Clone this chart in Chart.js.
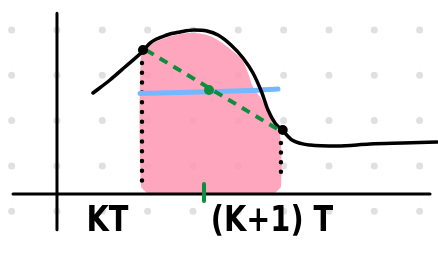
<!DOCTYPE html>
<html lang="en">
<head>
  <meta charset="UTF-8" />
  <title>Sample and hold sketch</title>
  <script src="https://cdn.jsdelivr.net/npm/chart.js"></script>
  <style>
    html, body { margin: 0; padding: 0; background: #fff; }
    #wrap { width: 438px; height: 254px; position: relative; }
  </style>
</head>
<body>
<div id="wrap"><canvas id="sketch"></canvas></div>

<script>
  // units: one grid step, origin where the two axes cross
  const X_MIN = -1.257, X_MAX = 8.405;
  const Y_MIN = -1.324, Y_MAX = 4.28;

  const dotXs = [-1, 0, 1, 2, 3, 4, 5, 6, 7, 8];
  const dotYs = [-0.38, 0.62, 1.62, 2.62, 3.62];

  const curveX = [0.794, 1.169, 1.5, 1.897, 2.052, 2.427, 2.713, 3.022, 3.309, 3.552, 3.839, 4.103, 4.324, 4.522, 4.655, 4.809, 4.986, 5.184, 5.581, 6.177, 6.905, 7.633, 8.383];
  const curveY = [2.228, 2.515, 2.802, 3.155, 3.331, 3.508, 3.574, 3.618, 3.596, 3.508, 3.287, 3.0, 2.669, 2.228, 1.853, 1.566, 1.39, 1.191, 1.081, 1.059, 1.103, 1.125, 1.147];

  const areaX = [1.985, 1.853, 1.853, 2.007, 2.383, 2.713, 3.022, 3.375, 3.706, 4.081, 4.214, 4.324, 4.522, 4.655, 4.809, 4.919, 4.941, 4.809];
  const areaY = [0.022, 0.176, 3.088, 3.265, 3.441, 3.53, 3.552, 3.486, 3.287, 2.956, 2.669, 2.36, 2.074, 1.787, 1.478, 1.324, 0.176, 0.022];

  const avgX = [1.831, 3.155, 4.258, 4.875];
  const avgY = [2.217, 2.25, 2.283, 2.316];

  const chordX = [1.963, 4.897];
  const chordY = [3.177, 1.412];
  const midX = [3.353], midY = [2.294];
  const tickX = [3.243, 3.243], tickY = [0.221, -0.154];

  const knotX = [1.897, 4.98], knotY = [3.177, 1.41];

  const holdLeftX = [1.875, 1.875], holdLeftY = [2.89, 0.287];
  const holdRightX = [4.94, 4.94], holdRightY = [1.125, 0.287];

  const axisHX = [-0.97, 8.23], axisHY = [0, 0];
  const axisVX = [0, 0], axisVY = [3.99, -0.79];

  const labelTexts = ['KT', '(K+1) T'];
  const labelX = [1.114, 4.743];
  const labelY = [-0.816, -0.816];

  const pts = (xs, ys) => xs.map((x, i) => ({ x: x, y: ys[i] }));
  const gridPts = [];
  dotYs.forEach(y => dotXs.forEach(x => gridPts.push({ x: x, y: y })));

  const line = (data, color, width, extra) => Object.assign({
    data: data, borderColor: color, borderWidth: width, pointRadius: 0,
    borderCapStyle: 'round', borderJoinStyle: 'round', fill: false, tension: 0
  }, extra || {});

  const labelPlugin = {
    id: 'labels',
    afterDatasetsDraw(chart) {
      const ctx = chart.ctx;
      const xs = chart.scales.x, ys = chart.scales.y;
      ctx.save();
      ctx.fillStyle = '#000';
      ctx.font = "bold 36px 'DejaVu Sans'";
      ctx.textAlign = 'center';
      ctx.textBaseline = 'alphabetic';
      labelTexts.forEach((t, i) => {
        ctx.save();
        ctx.translate(xs.getPixelForValue(labelX[i]), ys.getPixelForValue(labelY[i]));
        ctx.scale(0.8, 1);
        ctx.fillText(t, 0, 0);
        ctx.restore();
      });
      ctx.restore();
    }
  };

  new Chart(document.getElementById('sketch'), {
    type: 'line',
    data: {
      datasets: [
        line(pts(midX, midY), '#0b8f3c', 0, { pointRadius: 5, pointBackgroundColor: '#0b8f3c', showLine: false }),
        line(pts(knotX, knotY), '#000', 0, { pointRadius: 5, pointBackgroundColor: '#000', showLine: false }),
        line(pts(chordX, chordY), '#0b8f3c', 4, { borderDash: [9, 7], borderCapStyle: 'butt' }),
        line(pts(tickX, tickY), '#0b8f3c', 4),
        line(pts(curveX, curveY), '#000', 3.5, { cubicInterpolationMode: 'monotone' }),
        line(pts(avgX, avgY), '#74b9ff', 5, { tension: 0.3 }),
        line(pts(holdLeftX, holdLeftY), '#000', 4.5, { borderDash: [0, 9.8] }),
        line(pts(holdRightX, holdRightY), '#000', 4.5, { borderDash: [0, 9.6] }),
        line(pts(axisHX, axisHY), '#000', 3),
        line(pts(axisVX, axisVY), '#000', 3),
        line(pts(areaX, areaY), 'rgba(0,0,0,0)', 0, { fill: 'shape', backgroundColor: 'rgba(255,150,180,0.85)', tension: 0.3 }),
        line(gridPts, '#e0e0e0', 0, { pointRadius: 3.5, pointBackgroundColor: '#e0e0e0', pointBorderWidth: 0, showLine: false })
      ]
    },
    options: {
      responsive: true,
      maintainAspectRatio: false,
      devicePixelRatio: 1,
      animation: false,
      events: [],
      layout: { padding: 0, autoPadding: false },
      plugins: { legend: { display: false }, tooltip: { enabled: false } },
      scales: {
        x: { type: 'linear', min: X_MIN, max: X_MAX, display: false },
        y: { type: 'linear', min: Y_MIN, max: Y_MAX, display: false }
      }
    },
    plugins: [labelPlugin]
  });
</script>
</body>
</html>
